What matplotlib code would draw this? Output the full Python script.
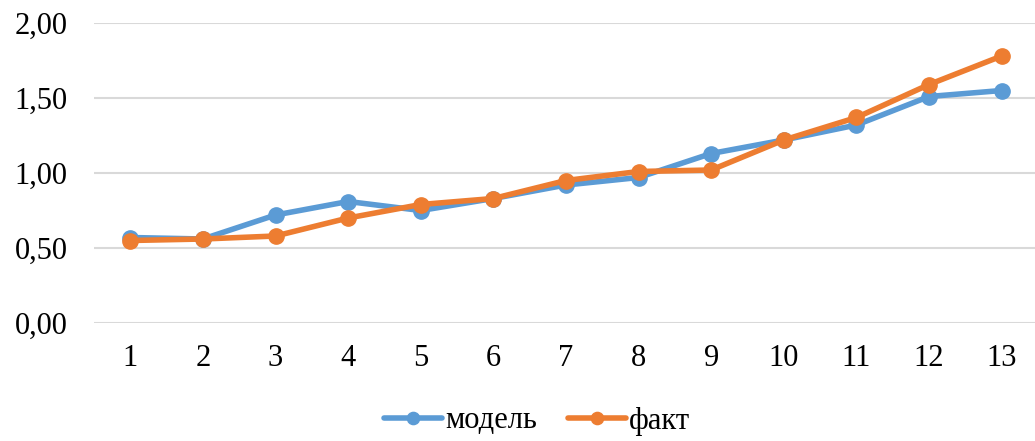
import matplotlib
matplotlib.use("Agg")
import matplotlib.pyplot as plt
from matplotlib.ticker import FuncFormatter

categories = list(range(1, 14))
model = [0.57, 0.56, 0.72, 0.81, 0.75, 0.83, 0.92, 0.97, 1.13, 1.22, 1.32, 1.51, 1.55]
fact = [0.55, 0.56, 0.58, 0.70, 0.79, 0.83, 0.95, 1.01, 1.02, 1.22, 1.37, 1.59, 1.78]
yticks = [0.0, 0.5, 1.0, 1.5, 2.0]

plt.rcParams['font.family'] = ['Liberation Serif', 'DejaVu Serif']

fig = plt.figure(figsize=(10.35, 4.41), dpi=100)
ax = fig.add_axes([94/1035, 1-323/441, 944/1035, 300/441])

ax.plot(categories, model, color='#5B9BD5', lw=4, marker='o', markersize=11, label='модель', solid_capstyle='round')
ax.plot(categories, fact, color='#ED7D31', lw=4, marker='o', markersize=11, label='факт', solid_capstyle='round')

ax.set_xlim(0.5, 13.5)
ax.set_ylim(0, 2.0)
ax.set_yticks(yticks)
ax.set_xticks(categories)
ax.yaxis.set_major_formatter(FuncFormatter(lambda v, p: f"{v:.2f}".replace('.', ',')))
ax.grid(axis='y', color='#D9D9D9', lw=1.5)
ax.set_axisbelow(True)
for s in ax.spines.values():
    s.set_visible(False)
ax.tick_params(axis='both', length=0, labelsize=22, colors='black')
ax.tick_params(axis='y', pad=19)
ax.tick_params(axis='x', pad=15)

fig.legend(loc='center', bbox_to_anchor=(537/1035, 1-421/441), ncol=2, frameon=False,
           fontsize=22, handlelength=1.9, handletextpad=0.1, columnspacing=1.0,
           markerscale=0.8)

fig.savefig('out.png', dpi=100)
